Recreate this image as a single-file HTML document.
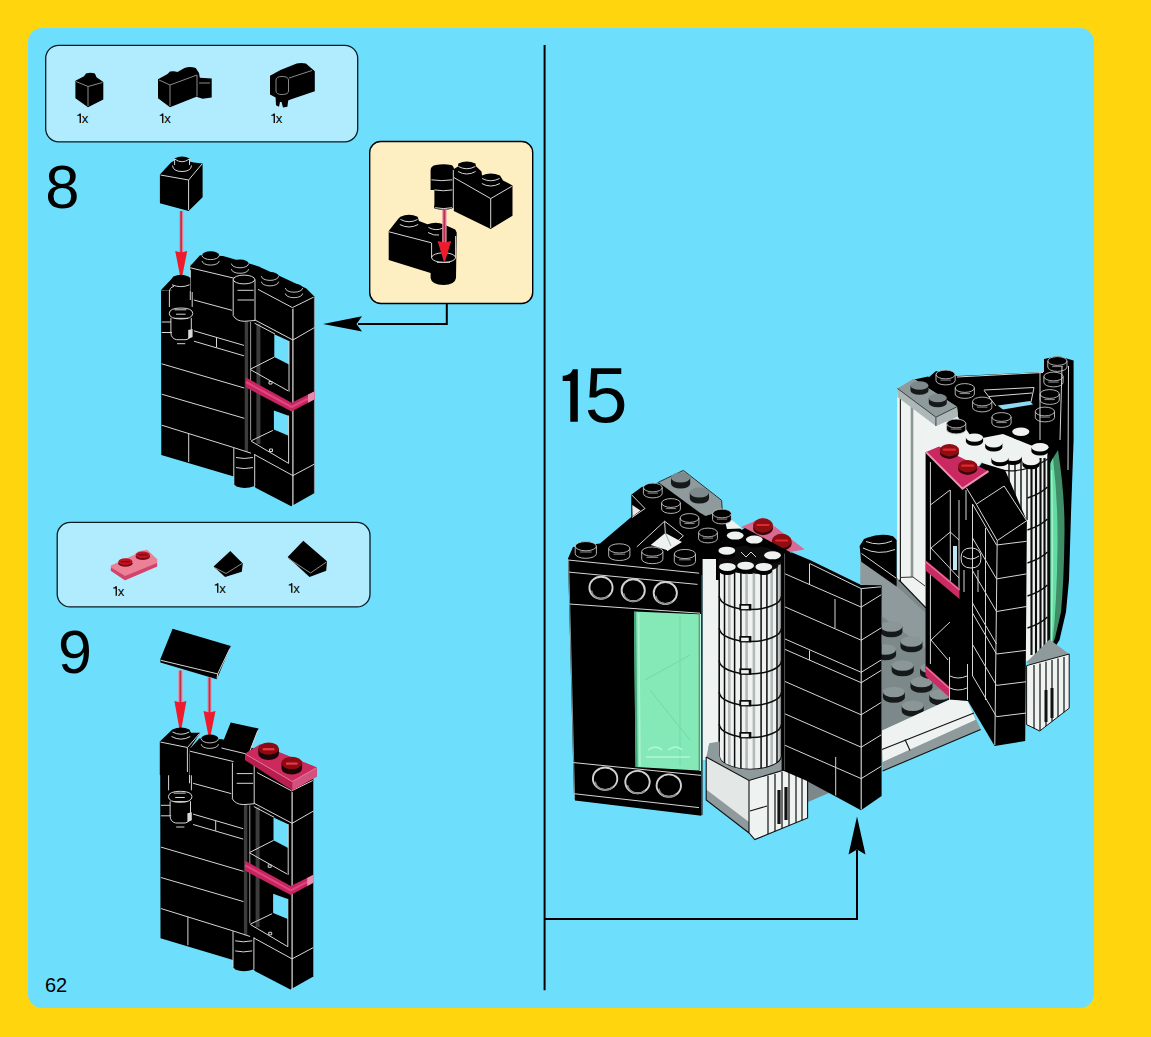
<!DOCTYPE html>
<html><head><meta charset="utf-8">
<style>
html,body{margin:0;padding:0;background:#FFD60E;}
body{width:1151px;height:1037px;overflow:hidden;font-family:"Liberation Sans",sans-serif;}
svg{display:block;position:absolute;left:0;top:0;}
text{font-family:"Liberation Sans",sans-serif;fill:#000;}
.w{stroke:#d6d6d6;stroke-width:1;fill:none;}
.g{stroke:#8a8a8a;stroke-width:1;fill:none;}
.k{fill:#000;}
.kl{stroke:#000;stroke-width:1;fill:none;}
</style></head><body>
<svg width="1151" height="1037" viewBox="0 0 1151 1037">
<rect x="0" y="0" width="1151" height="1037" fill="#FFD60E"/>
<rect x="28" y="28" width="1066" height="980" rx="14" ry="14" fill="#6DDFFC"/>
<!-- parts boxes -->
<rect x="45.7" y="45.3" width="312" height="96.5" rx="13" ry="13" fill="#B1ECFE" stroke="#0a1a22" stroke-width="1.3"/>
<rect x="57.2" y="522.4" width="312.8" height="84.5" rx="13" ry="13" fill="#B1ECFE" stroke="#0a1a22" stroke-width="1.3"/>
<!-- callout -->
<rect x="369.7" y="141.5" width="163" height="162" rx="11" ry="11" fill="#FEEFC2" stroke="#000" stroke-width="1.4"/>
<!-- divider + arrows -->
<path d="M544.6 45V990.3" stroke="#000" stroke-width="2" fill="none"/>
<path d="M544.6 919H857V850" stroke="#000" stroke-width="2" fill="none"/>
<path d="M857 816.5L848.5 854.5L857 849.5L865.5 854.5Z" fill="#000"/>
<path d="M446.8 303.5V323.9H358" stroke="#000" stroke-width="2" fill="none"/>
<path d="M323 323.9L362 316.2L356.5 323.9L362 331.6Z" fill="#000"/>
<!-- text -->
<text x="45" y="991.7" font-size="20">62</text>
<text x="45.3" y="207.8" font-size="61.5">8</text>
<text x="58" y="672.8" font-size="61">9</text>
<path d="M577.8 369.2V421.7H570.3V381H562.7V375.8C567.6 375.6 571.6 373.6 572.7 369.2Z" fill="#000"/>
<text x="584.8" y="422.2" font-size="77">5</text>
<g font-size="13.2">
<path d="M79.6 113.6h1.3v9.4h-1.3v-7.2h-2.4v-0.9q2 -0.1 2.4 -1.3z" fill="#000"/><text x="81.7" y="123">x</text><path d="M162.1 113.6h1.3v9.4h-1.3v-7.2h-2.4v-0.9q2 -0.1 2.4 -1.3z" fill="#000"/><text x="164.2" y="123">x</text><path d="M273.6 113.6h1.3v9.4h-1.3v-7.2h-2.4v-0.9q2 -0.1 2.4 -1.3z" fill="#000"/><text x="275.7" y="123">x</text><path d="M115.6 586.3000000000001h1.3v9.4h-1.3v-7.2h-2.4v-0.9q2 -0.1 2.4 -1.3z" fill="#000"/><text x="117.7" y="595.7">x</text><path d="M217.1 583.3000000000001h1.3v9.4h-1.3v-7.2h-2.4v-0.9q2 -0.1 2.4 -1.3z" fill="#000"/><text x="219.2" y="592.7">x</text><path d="M291.1 583.3000000000001h1.3v9.4h-1.3v-7.2h-2.4v-0.9q2 -0.1 2.4 -1.3z" fill="#000"/><text x="293.2" y="592.7">x</text>
</g>
<!-- parts box 1 -->
<path class="k" d="M75.4 80.7L84 76.3L86 73.6Q90.4 72 94.9 73.6L96.5 77.2L103.3 82V99.5L88 107.2L75.4 98.2Z"/>
<path class="g" d="M76 81.5L88 86.5L102.5 82.5M88 86.5V106"/>
<path class="k" d="M158 79.3L167.5 74L170 71.6Q174 70.6 177.5 72L184.5 68Q190 65.8 195.7 68L199 73L199.8 77.8L211.7 78.6V97.4L202.6 98.8L196.4 96.7L170 107.2L158 98.2Z"/>
<path class="g" d="M159 80L170 85L197 75M170 85V106M197 75V96.5M199 83H210"/>
<path class="k" d="M270 75.8L280.5 70L296.7 63.6Q301 62.4 305.9 63.6L314.8 71.2V91.3L290.5 99.6L288.2 100.5L287.4 106.7L283 107.6L281.5 102H280L279 106.7L276 105.2L275.6 97.4L270 94.4Z"/>
<path class="g" d="M276 80Q276 76.5 282 76.5Q288.5 76.5 288.5 80V91Q288.5 94.5 282 94.5Q276 94.5 276 91ZM289 78L312 70.5"/>

<!-- step 8 --><path class="k" d="M159.9 174.5L171 162.6L174.5 160.5V158.4Q182 154.8 189.6 158.4V161.5L193.8 162.6L202.6 163.4V197.2L188.6 211L159.9 203.2Z"/><path class="w" d="M160.5 175L188.6 180L202 164M188.6 180V210"/><path class="w" d="M174.6 159Q182 164.5 189.5 159M172.5 165.5Q173 171.5 182 171.5Q191 171.5 191.5 165.5M174.6 159V165M189.5 159V165" stroke-width="0.9"/><path d="M181.2 211V253.0" stroke="#EC8FA3" stroke-width="4.4" fill="none"/><path d="M181.2 211V253.0" stroke="#B5304E" stroke-width="1.9" fill="none"/><path d="M175.2 251.0L181.2 252.5L187.2 251.0L181.79999999999998 278.5H180.6Z" fill="#EE1B2C"/><g transform="translate(0 0)"><path class="k" d="M161 290L190.3 290L190.3 264.5L292.5 300L314.6 296.5V493L291.2 506.3L255.5 487.8L254.7 486Q245 489.5 236.5 486.5L233.8 484V476.6L161.3 454.9Z"/><path d="M274.3 334.3L289 341V364.6L274.3 357Z" fill="#6DDFFC"/><path d="M273.9 410.4L288.6 415.8V435.8L273.9 429.6Z" fill="#6DDFFC"/><path d="M246.4 321V452" stroke="#3c3c3c" stroke-width="3.4" fill="none"/><path d="M258.4 324V444" stroke="#3c3c3c" stroke-width="4" fill="none"/><path d="M250.6 322V440" stroke="#9a9a9a" stroke-width="1" fill="none"/><path class="w" d="M193.9 300L232 310.3M193.9 330.8L244 345.4M193.9 341.2L244 355.8M216.5 337.5V347.5M161.7 363.8L244.3 388M161.7 394.2L244.3 418.3M161.7 425.2L233.8 447.6L251 453.2M188.7 433.5V462"/><path class="w" d="M161.7 322H171M161.7 332.5H172"/><path class="w" d="M250.4 369.2L274.4 357M250.4 369.6L288 390.8M289 341V391.6"/><path class="w" d="M251.2 440.8L272.9 430.4M251.2 441.2L288.6 463.4M288.6 415.6V463.4"/><path class="w" d="M269 381.5h3v2.5h-3zM269.5 449h3v2.5h-3z" stroke-width="0.8"/><path class="w" d="M254.6 319.8L292.9 340L314.6 327.5M254.6 323.2L275 334"/><path class="w" d="M254.7 454.7L292.9 475.6L314 464.3"/><path d="M292.9 308V506" stroke="#e2e2e2" stroke-width="1.2" fill="none"/><path d="M314.4 297V493" stroke="#9fb6bd" stroke-width="0.8" fill="none"/><path d="M245.6 377.3L291.6 402.8L314.7 391.3V399.3L291.6 411.6L245.6 387.2Z" fill="#C62560"/><path d="M246 382L291.6 407L314 395.5" stroke="#E0457F" stroke-width="2" fill="none"/><path d="M308 394.6L314.7 391.3V399.3L308 402.8Z" fill="#E58BB0"/><path class="w" d="M233.8 447.8V484M254.7 454V486M236 457.5Q244 459.5 253 457.5M236 467.6Q244 469.6 253 467.6"/><path class="w" d="M161 290.3H172M190.3 264.5V300"/></g><path class="k" d="M160.6 290.4L171 279.4L173.4 276.5Q180.8 273 188.4 276.5L190.4 278V291Z"/><path class="k" d="M190.3 266L200 255.2L223 256L258 266.2L283 277.6L306.4 288.6L314.4 296.6L292.5 309L190.3 270Z"/><path d="M202.0 255.4V260.9A8.6 4.2 0 0 0 219.2 260.9V255.4Z" fill="#000"/><ellipse cx="210.6" cy="255.4" rx="8.6" ry="4.2" fill="#000"/><path d="M202.0 255.4A8.6 4.2 0 0 0 219.2 255.4M202.0 260.9A8.6 4.2 0 0 0 219.2 260.9" fill="none" stroke="#d0d0d0" stroke-width="0.9"/><path d="M231.4 263.6V269.1A8.6 4.2 0 0 0 248.6 269.1V263.6Z" fill="#000"/><ellipse cx="240" cy="263.6" rx="8.6" ry="4.2" fill="#000"/><path d="M231.4 263.6A8.6 4.2 0 0 0 248.6 263.6M231.4 269.1A8.6 4.2 0 0 0 248.6 269.1" fill="none" stroke="#d0d0d0" stroke-width="0.9"/><path d="M261.4 276.2V281.7A8.6 4.2 0 0 0 278.6 281.7V276.2Z" fill="#000"/><ellipse cx="270" cy="276.2" rx="8.6" ry="4.2" fill="#000"/><path d="M261.4 276.2A8.6 4.2 0 0 0 278.6 276.2M261.4 281.7A8.6 4.2 0 0 0 278.6 281.7" fill="none" stroke="#d0d0d0" stroke-width="0.9"/><path d="M285.4 288V293.5A8.6 4.2 0 0 0 302.6 293.5V288Z" fill="#000"/><ellipse cx="294" cy="288" rx="8.6" ry="4.2" fill="#000"/><path d="M285.4 288A8.6 4.2 0 0 0 302.6 288M285.4 293.5A8.6 4.2 0 0 0 302.6 293.5" fill="none" stroke="#d0d0d0" stroke-width="0.9"/><path class="w" d="M190.3 267.8L234.5 278.3M257.9 289.3L292.4 307.6L313.6 297.2"/><path class="k" d="M233.2 279V316Q236 321.5 244 321.5Q252 321.5 255 319V279Q244 272 233.2 279Z"/><ellipse cx="244" cy="279.5" rx="10.8" ry="4.4" class="w" fill="#000"/><path class="w" d="M233.2 279.5V315.5Q236 321 244 321.3L255 320.5M255 279.5V320.5M237.5 290.3H253.5M237.5 300H254"/><path class="w" d="M172 284.8Q180.8 288.5 189.6 284.8M169.4 292Q169.4 287.5 174 286.4M169.4 292V307M192.2 292V307M169.2 313.4Q169.5 308 181 308Q192.5 308 192.8 313.4Q192.5 319 181 319Q169.5 319 169.2 313.4M174.5 309.8H186.4M176 314.2H185.6M174.5 318.3H188M170.9 318V333Q171.2 338.5 176.5 339.7H186Q191 338.5 191.3 333V318M177 343.7H185.2" stroke-width="0.9"/><path d="M188.2 330V339L192.6 337V329Z" fill="#d8d8d8"/>
<!-- callout content --><path class="k" d="M453.8 169L458 166.5L458.3 163.5Q466.8 159.5 475.4 163.5L476 166.3L481.5 171.5L482 175.5Q490.5 171.5 500 175.6L503 180.4L512.5 185.4V215.8L490.7 229L453.8 211Z"/><path class="k" d="M430.6 170Q430.8 165.8 436 165Q443.6 163.6 451 165Q454 165.8 454 170V208H434.4V190H430.6Z"/><path class="k" d="M434.4 205H452.3V208.5Q443.4 211 434.4 208.5Z"/><path class="w" d="M453.8 177.5L490.7 198.6L511.8 186.3M490.7 198.6V228M453.3 170V210"/><path class="w" d="M431.4 179.8Q441.8 181.5 452.3 179.8M434.4 189.9Q443.4 191.6 452.3 189.9M435 207.7Q443.4 209.5 452 207.7" stroke-width="0.9"/><path class="w" d="M458.4 166.5Q466.8 171 475.3 166.5M458 171.5Q466.8 176.5 475.6 171.5M482.2 178.5Q490.5 183 499.6 178.5M481.8 183.5Q490.5 188.5 500 183.5" stroke-width="0.9"/><path class="k" d="M388.7 231L398.5 218.5L400.4 216.8Q409 212.8 417.6 216.8L419 221L427.5 224.3Q436 221 444 224.6L455.2 229.6L456.7 232.5L456 278Q455 284.8 443.6 285Q431.5 284.8 430.6 278V273L388.7 260Z"/><path class="w" d="M389 231.8L431.4 242.8M400.5 219.5Q409 224 417.5 219.5M399.8 224.5Q409 229.5 418.2 224.5M428.5 227.5Q436 231.5 443 228M428 232.5Q434 236 439 235" stroke-width="0.9"/><ellipse cx="443.6" cy="257.6" rx="12" ry="4.8" class="w" stroke-width="0.9"/><path class="w" d="M431.6 243V258M455.6 236V258M437 262.3H450" stroke-width="0.9"/><path d="M444.4 209.5V242.89999999999998" stroke="#EC8FA3" stroke-width="4.4" fill="none"/><path d="M444.4 209.5V242.89999999999998" stroke="#B5304E" stroke-width="1.9" fill="none"/><path d="M437.59999999999997 240.89999999999998L444.4 242.39999999999998L451.2 240.89999999999998L445.0 261.4H443.79999999999995Z" fill="#EE1B2C"/>
<!-- parts box 2 --><path d="M110.8 565.4L134 555L138 551.5L147 549.8L157.3 559.2V566.5L125 580.2L110.8 570.8Z" fill="#EC8097"/><path d="M111 567.5L125 576L157 563V566.5L125 580.2L110.8 570.8Z" fill="#D0446C"/><ellipse cx="125.4" cy="563.2" rx="7.2" ry="3.6" fill="#7A0A12"/><ellipse cx="125.4" cy="561.6" rx="7" ry="3.3" fill="#C01220"/><path d="M121 561.6h9" stroke="#7A0A12" stroke-width="1.2"/><ellipse cx="142.8" cy="556.4" rx="7.2" ry="3.6" fill="#7A0A12"/><ellipse cx="142.8" cy="554.8" rx="7" ry="3.3" fill="#C01220"/><path d="M138.5 554.8h9" stroke="#7A0A12" stroke-width="1.2"/><path class="k" d="M213.6 566.5L230.3 550.9L242.8 563.4L241.8 571.7L225.1 577Z"/><path class="g" d="M214.5 567.5L226 573.5L242 563.5"/><path class="k" d="M287.7 557.1L303.3 540.8L327 561.3L326.2 570.7L309.5 577Z"/><path class="g" d="M288.5 558.5L310.5 573L326.5 562"/>
<!-- step 9 --><path class="k" d="M160.4 659L172.6 628.7L230.8 646L216.8 679.2L160.4 662.6Z"/><path class="w" d="M160.8 660.3L217.7 673.9L229.8 648.6M217.7 673.9L217 678.5"/><path d="M180.4 670.5V703" stroke="#EC8FA3" stroke-width="4.4" fill="none"/><path d="M180.4 670.5V703" stroke="#B5304E" stroke-width="1.9" fill="none"/><path d="M174.4 701L180.4 702.5L186.4 701L181.0 731H179.8Z" fill="#EE1B2C"/><path d="M209.5 677.5V713" stroke="#EC8FA3" stroke-width="4.4" fill="none"/><path d="M209.5 677.5V713" stroke="#B5304E" stroke-width="1.9" fill="none"/><path d="M203.5 711L209.5 712.5L215.5 711L210.1 738H208.9Z" fill="#EE1B2C"/><g transform="translate(-0.8 483.3)"><path class="k" d="M161 290L190.3 290L190.3 264.5L292.5 300L314.6 296.5V493L291.2 506.3L255.5 487.8L254.7 486Q245 489.5 236.5 486.5L233.8 484V476.6L161.3 454.9Z"/><path d="M274.3 334.3L289 341V364.6L274.3 357Z" fill="#6DDFFC"/><path d="M273.9 410.4L288.6 415.8V435.8L273.9 429.6Z" fill="#6DDFFC"/><path d="M246.4 321V452" stroke="#3c3c3c" stroke-width="3.4" fill="none"/><path d="M258.4 324V444" stroke="#3c3c3c" stroke-width="4" fill="none"/><path d="M250.6 322V440" stroke="#9a9a9a" stroke-width="1" fill="none"/><path class="w" d="M193.9 300L232 310.3M193.9 330.8L244 345.4M193.9 341.2L244 355.8M216.5 337.5V347.5M161.7 363.8L244.3 388M161.7 394.2L244.3 418.3M161.7 425.2L233.8 447.6L251 453.2M188.7 433.5V462"/><path class="w" d="M161.7 322H171M161.7 332.5H172"/><path class="w" d="M250.4 369.2L274.4 357M250.4 369.6L288 390.8M289 341V391.6"/><path class="w" d="M251.2 440.8L272.9 430.4M251.2 441.2L288.6 463.4M288.6 415.6V463.4"/><path class="w" d="M269 381.5h3v2.5h-3zM269.5 449h3v2.5h-3z" stroke-width="0.8"/><path class="w" d="M254.6 319.8L292.9 340L314.6 327.5M254.6 323.2L275 334"/><path class="w" d="M254.7 454.7L292.9 475.6L314 464.3"/><path d="M292.9 308V506" stroke="#e2e2e2" stroke-width="1.2" fill="none"/><path d="M314.4 297V493" stroke="#9fb6bd" stroke-width="0.8" fill="none"/><path d="M245.6 377.3L291.6 402.8L314.7 391.3V399.3L291.6 411.6L245.6 387.2Z" fill="#C62560"/><path d="M246 382L291.6 407L314 395.5" stroke="#E0457F" stroke-width="2" fill="none"/><path d="M308 394.6L314.7 391.3V399.3L308 402.8Z" fill="#E58BB0"/><path class="w" d="M233.8 447.8V484M254.7 454V486M236 457.5Q244 459.5 253 457.5M236 467.6Q244 469.6 253 467.6"/><path class="w" d="M161 290.3H172M190.3 264.5V300"/></g><g transform="translate(-0.8 483.3)"><path class="k" d="M190.3 266L200 255.2L223 256L258 266.2L283 277.6L306.4 288.6L314.4 296.6L292.5 309L190.3 270Z"/><path d="M202.0 255.4V260.9A8.6 4.2 0 0 0 219.2 260.9V255.4Z" fill="#000"/><ellipse cx="210.6" cy="255.4" rx="8.6" ry="4.2" fill="#000"/><path d="M202.0 255.4A8.6 4.2 0 0 0 219.2 255.4M202.0 260.9A8.6 4.2 0 0 0 219.2 260.9" fill="none" stroke="#d0d0d0" stroke-width="0.9"/><path class="w" d="M190.3 267.8L234.5 278.3M257.9 289.3L292.4 307.6L313.6 297.2"/><path class="k" d="M233.2 279V316Q236 321.5 244 321.5Q252 321.5 255 319V279Q244 272 233.2 279Z"/><path class="w" d="M233.2 279.5V315.5Q236 321 244 321.3L255 320.5M255 279.5V320.5M237.5 290.3H253.5M237.5 300H254"/></g><path class="k" d="M159.8 741.5L170 731.8L172.4 729.6Q180.9 725.4 189.4 729.6L191 732.8H200.3L189.6 749V775H159.8Z"/><path class="w" d="M160.3 742L187.5 747.5L199.5 733.5M187.4 748V772" stroke-width="0.9"/><path class="w" d="M172.5 732Q180.9 736.5 189.3 732M171.5 736.5Q180.9 741.8 190.3 736.5" stroke-width="0.9"/><path class="k" d="M221 746.7L230.7 722.4L258.6 728.5L249 752V762L221 754Z"/><path class="w" d="M221.5 748L248.6 754.5L257.8 730.5" stroke-width="0.9"/><path d="M245 753.7L260 744.5L316.8 767.5V776.4L292.3 790.6L245 760.2Z" fill="#B81E4E"/><path d="M245 753.7L260 744.5L316.8 767.5L292.3 781.5Z" fill="#CB2A5C"/><path d="M292.3 781.5L316.8 767.5V776.4L292.3 790.6Z" fill="#D4507F"/><path d="M245.3 754L292.3 781.5L316.5 767.8" stroke="#E67AA2" stroke-width="1" fill="none"/><path d="M258.3 748.6V754.0A10.3 6 0 0 0 278.90000000000003 754.0V748.6Z" fill="#1c0406"/><ellipse cx="268.6" cy="748.6" rx="10.3" ry="6.2" fill="#8E0A12"/><path d="M262.8 749.2h11.6" stroke="#E8384A" stroke-width="2.2"/><path d="M281.5 763V768.4A10.3 6 0 0 0 302.1 768.4V763Z" fill="#1c0406"/><ellipse cx="291.8" cy="763" rx="10.3" ry="6.2" fill="#8E0A12"/><path d="M286.0 763.6h11.6" stroke="#E8384A" stroke-width="2.2"/><g transform="translate(-0.8 483.3)"><path class="w" d="M169.4 292V307M192.2 292V307M169.2 313.4Q169.5 308 181 308Q192.5 308 192.8 313.4Q192.5 319 181 319Q169.5 319 169.2 313.4M174.5 309.8H186.4M176 314.2H185.6M174.5 318.3H188M170.9 318V333Q171.2 338.5 176.5 339.7H186Q191 338.5 191.3 333V318M177 343.7H185.2" stroke-width="0.9"/><path d="M188.2 330V339L192.6 337V329Z" fill="#d8d8d8"/></g>
<!-- step 15 --><path d="M861 548L926 600V668L951 694V706L882 735V600Z" fill="#7C8889"/><path d="M860.3 555L896 585.5L925.3 612.8V648L881.5 616V592L860.3 584Z" fill="#8E9A9B"/><path d="M880.4 626.5V632.0A11 5.2 0 0 0 902.4 632.0V626.5Z" fill="#15191a"/><ellipse cx="891.4" cy="626.5" rx="11" ry="5.2" fill="#8A9697"/><path d="M900.5 641.5V647.0A11 5.2 0 0 0 922.5 647.0V641.5Z" fill="#15191a"/><ellipse cx="911.5" cy="641.5" rx="11" ry="5.2" fill="#8A9697"/><path d="M874.1 649.5V655.0A11 5.2 0 0 0 896.1 655.0V649.5Z" fill="#15191a"/><ellipse cx="885.1" cy="649.5" rx="11" ry="5.2" fill="#8A9697"/><path d="M891.7 665.5V671.0A11 5.2 0 0 0 913.7 671.0V665.5Z" fill="#15191a"/><ellipse cx="902.7" cy="665.5" rx="11" ry="5.2" fill="#8A9697"/><path d="M910.5 682V687.5A11 5.2 0 0 0 932.5 687.5V682Z" fill="#15191a"/><ellipse cx="921.5" cy="682" rx="11" ry="5.2" fill="#8A9697"/><path d="M882.9 692V697.5A11 5.2 0 0 0 904.9 697.5V692Z" fill="#15191a"/><ellipse cx="893.9" cy="692" rx="11" ry="5.2" fill="#8A9697"/><path d="M929.3 694.5V700.0A11 5.2 0 0 0 951.3 700.0V694.5Z" fill="#15191a"/><ellipse cx="940.3" cy="694.5" rx="11" ry="5.2" fill="#8A9697"/><path d="M901.7 705.8V711.3A11 5.2 0 0 0 923.7 711.3V705.8Z" fill="#15191a"/><ellipse cx="912.7" cy="705.8" rx="11" ry="5.2" fill="#8A9697"/><path d="M920 668V673.5A11 5.2 0 0 0 942 673.5V668Z" fill="#15191a"/><ellipse cx="931" cy="668" rx="11" ry="5.2" fill="#8A9697"/><path class="k" d="M859.6 546L864 539L868 537.5Q880 533 893 536.2L896.6 540V586.5L861.3 561.8Z"/><path class="w" d="M866 541.5Q879 546.5 892 541M863 548Q878 556 895 549.5M861.5 553.5L896 578" stroke-width="0.9"/><path d="M881.4 730.7L950.3 699.3L967.5 700.8L980.7 729.5L882.6 771Z" fill="#8E9A9B"/><path d="M881.4 730.7L950.3 699.3L967.5 700.8L975.7 719.7L882.6 762Z" fill="#EEF2F0"/><path d="M882 749.5L974 713M905 739.5L910 750.5" stroke="#111" stroke-width="1.1" fill="none"/><path d="M882.6 771L980.7 729.5" stroke="#111" stroke-width="1.1" fill="none"/><path d="M897.4 392L936 426L958 416L990 450L962 489L926 455V608L897.4 578Z" fill="#EEF2F0"/><path d="M897.4 392L926 414V608L897.4 578Z" fill="#EEF2F0"/><path d="M900.4 398V582" stroke="#222" stroke-width="1.2" fill="none"/><path d="M912 406V577" stroke="#8d9696" stroke-width="2.6" fill="none"/><path d="M900 577.5L913 577L925 586" stroke="#333" stroke-width="1" fill="none"/><path d="M899 580L926 608" stroke="#111" stroke-width="1.1" fill="none"/><path class="k" d="M928 378L936 371L957 376L1044 372V359L1058 356L1073.6 360.5L1073.6 440L1071 514L1069 580L1066 612L1059.5 640L1050 655V455H985L972 438L958 417L957 407Z"/><path class="k" d="M912 380L928 376.5L962 398L958 409Z"/><path d="M997.6 405.5L1030 401L1033 404.5L1003 409.5Z" fill="#8FD9F2"/><path class="w" d="M984 390L1034 387.5L1031 402M984 390.5L996 406M989 396.5L1032 393" stroke-width="0.9"/><path d="M1049 466L1053 458L1058 450Q1065 495 1064.5 534Q1064 580 1061 612L1055 638L1050 650Z" fill="#3F8E68"/><path d="M1049 466L1053 458Q1058 500 1057.5 546Q1057 600 1052.5 644L1050 650Z" fill="#62DEA2"/><path d="M1051.5 470Q1053.5 550 1051 644" stroke="#A6EFCF" stroke-width="1.5" fill="none"/><path d="M972 440L1003 434L1047.5 452V652L1020 664V520L1000 472L985 468Z" fill="#EEF2F0"/><path d="M1048.8 455V654" stroke="#0c0c0c" stroke-width="3" fill="none"/><path d="M1009 458V520" stroke="#0c0c0c" stroke-width="1.4" fill="none"/><path d="M1015 458V520" stroke="#0c0c0c" stroke-width="1.4" fill="none"/><path d="M1021 458V520" stroke="#0c0c0c" stroke-width="1.4" fill="none"/><path d="M1027 458V520" stroke="#0c0c0c" stroke-width="1.4" fill="none"/><path d="M1031.5 458V655" stroke="#0c0c0c" stroke-width="2.1" fill="none"/><path d="M1036 458V655" stroke="#0c0c0c" stroke-width="2.1" fill="none"/><path d="M1040.5 458V655" stroke="#0c0c0c" stroke-width="2.1" fill="none"/><path d="M1044.5 458V655" stroke="#0c0c0c" stroke-width="2.1" fill="none"/><path d="M1027.5 498Q1040 494 1047.5 487" stroke="#0c0c0c" stroke-width="1.5" fill="none"/><path d="M1027.5 530Q1040 526 1047.5 519" stroke="#0c0c0c" stroke-width="1.5" fill="none"/><path d="M1027.5 563Q1040 559 1047.5 552" stroke="#0c0c0c" stroke-width="1.5" fill="none"/><path d="M1027.5 596Q1040 592 1047.5 585" stroke="#0c0c0c" stroke-width="1.5" fill="none"/><path d="M1027.5 628Q1040 624 1047.5 617" stroke="#0c0c0c" stroke-width="1.5" fill="none"/><path d="M1000 470Q1025 474 1049.5 458" stroke="#111" stroke-width="1.2" fill="none"/><path d="M965.9 437.6V441.6A8.6 4.2 0 0 0 983.1 441.6V437.6Z" fill="#000"/><ellipse cx="974.5" cy="437.6" rx="8.6" ry="4.2" fill="#EEF2F0"/><path d="M985.1999999999999 443.3V447.3A8.6 4.2 0 0 0 1002.4 447.3V443.3Z" fill="#000"/><ellipse cx="993.8" cy="443.3" rx="8.6" ry="4.2" fill="#EEF2F0"/><path d="M1012.1999999999999 431.8V435.8A8.6 4.2 0 0 0 1029.3999999999999 435.8V431.8Z" fill="#000"/><ellipse cx="1020.8" cy="431.8" rx="8.6" ry="4.2" fill="#EEF2F0"/><path d="M1031.4 447.2V451.2A8.6 4.2 0 0 0 1048.6 451.2V447.2Z" fill="#000"/><ellipse cx="1040" cy="447.2" rx="8.6" ry="4.2" fill="#EEF2F0"/><path d="M1004.4 456.8V460.8A8.6 4.2 0 0 0 1021.6 460.8V456.8Z" fill="#000"/><ellipse cx="1013" cy="456.8" rx="8.6" ry="4.2" fill="#EEF2F0"/><path d="M991.4 458V462A8.6 4.2 0 0 0 1008.6 462V458Z" fill="#000"/><ellipse cx="1000" cy="458" rx="8.6" ry="4.2" fill="#EEF2F0"/><path d="M1022.4 461V465A8.6 4.2 0 0 0 1039.6 465V461Z" fill="#000"/><ellipse cx="1031" cy="461" rx="8.6" ry="4.2" fill="#EEF2F0"/><path d="M936.0 374.5V380.5A9.6 4.4 0 0 0 955.2 380.5V374.5Z" fill="#000"/><ellipse cx="945.6" cy="374.5" rx="9.6" ry="4.4" fill="#000"/><ellipse cx="945.6" cy="374.5" rx="9.6" ry="4.4" fill="none" stroke="#c4c4c4" stroke-width="0.9"/><path d="M936.0 380.5A9.6 4.4 0 0 0 955.2 380.5M936.0 374.5v6M955.2 374.5v6" fill="none" stroke="#c4c4c4" stroke-width="0.9"/><path d="M940.32 380.09999999999997h10.56" stroke="#9a9a9a" stroke-width="0.9"/><path d="M955.1999999999999 388V394A9.6 4.4 0 0 0 974.4 394V388Z" fill="#000"/><ellipse cx="964.8" cy="388" rx="9.6" ry="4.4" fill="#000"/><ellipse cx="964.8" cy="388" rx="9.6" ry="4.4" fill="none" stroke="#c4c4c4" stroke-width="0.9"/><path d="M955.1999999999999 394A9.6 4.4 0 0 0 974.4 394M955.1999999999999 388v6M974.4 388v6" fill="none" stroke="#c4c4c4" stroke-width="0.9"/><path d="M959.52 393.59999999999997h10.56" stroke="#9a9a9a" stroke-width="0.9"/><path d="M972.6 401.5V407.5A9.6 4.4 0 0 0 991.8000000000001 407.5V401.5Z" fill="#000"/><ellipse cx="982.2" cy="401.5" rx="9.6" ry="4.4" fill="#000"/><ellipse cx="982.2" cy="401.5" rx="9.6" ry="4.4" fill="none" stroke="#c4c4c4" stroke-width="0.9"/><path d="M972.6 407.5A9.6 4.4 0 0 0 991.8000000000001 407.5M972.6 401.5v6M991.8000000000001 401.5v6" fill="none" stroke="#c4c4c4" stroke-width="0.9"/><path d="M976.9200000000001 407.09999999999997h10.56" stroke="#9a9a9a" stroke-width="0.9"/><path d="M991.9 417V423A9.6 4.4 0 0 0 1011.1 423V417Z" fill="#000"/><ellipse cx="1001.5" cy="417" rx="9.6" ry="4.4" fill="#000"/><ellipse cx="1001.5" cy="417" rx="9.6" ry="4.4" fill="none" stroke="#c4c4c4" stroke-width="0.9"/><path d="M991.9 423A9.6 4.4 0 0 0 1011.1 423M991.9 417v6M1011.1 417v6" fill="none" stroke="#c4c4c4" stroke-width="0.9"/><path d="M996.22 422.59999999999997h10.56" stroke="#9a9a9a" stroke-width="0.9"/><path d="M946.6 423.5V429.5A9.6 4.4 0 0 0 965.8000000000001 429.5V423.5Z" fill="#000"/><ellipse cx="956.2" cy="423.5" rx="9.6" ry="4.4" fill="#000"/><ellipse cx="956.2" cy="423.5" rx="9.6" ry="4.4" fill="none" stroke="#c4c4c4" stroke-width="0.9"/><path d="M946.6 429.5A9.6 4.4 0 0 0 965.8000000000001 429.5M946.6 423.5v6M965.8000000000001 423.5v6" fill="none" stroke="#c4c4c4" stroke-width="0.9"/><path d="M950.9200000000001 429.09999999999997h10.56" stroke="#9a9a9a" stroke-width="0.9"/><path d="M1047.8000000000002 361V367A9.6 4.4 0 0 0 1067.0 367V361Z" fill="#000"/><ellipse cx="1057.4" cy="361" rx="9.6" ry="4.4" fill="#000"/><ellipse cx="1057.4" cy="361" rx="9.6" ry="4.4" fill="none" stroke="#c4c4c4" stroke-width="0.9"/><path d="M1047.8000000000002 367A9.6 4.4 0 0 0 1067.0 367M1047.8000000000002 361v6M1067.0 361v6" fill="none" stroke="#c4c4c4" stroke-width="0.9"/><path d="M1052.1200000000001 366.59999999999997h10.56" stroke="#9a9a9a" stroke-width="0.9"/><path d="M1043.9 376.5V382.5A9.6 4.4 0 0 0 1063.1 382.5V376.5Z" fill="#000"/><ellipse cx="1053.5" cy="376.5" rx="9.6" ry="4.4" fill="#000"/><ellipse cx="1053.5" cy="376.5" rx="9.6" ry="4.4" fill="none" stroke="#c4c4c4" stroke-width="0.9"/><path d="M1043.9 382.5A9.6 4.4 0 0 0 1063.1 382.5M1043.9 376.5v6M1063.1 376.5v6" fill="none" stroke="#c4c4c4" stroke-width="0.9"/><path d="M1048.22 382.09999999999997h10.56" stroke="#9a9a9a" stroke-width="0.9"/><path d="M1040.1000000000001 394V400A9.6 4.4 0 0 0 1059.3 400V394Z" fill="#000"/><ellipse cx="1049.7" cy="394" rx="9.6" ry="4.4" fill="#000"/><ellipse cx="1049.7" cy="394" rx="9.6" ry="4.4" fill="none" stroke="#c4c4c4" stroke-width="0.9"/><path d="M1040.1000000000001 400A9.6 4.4 0 0 0 1059.3 400M1040.1000000000001 394v6M1059.3 394v6" fill="none" stroke="#c4c4c4" stroke-width="0.9"/><path d="M1044.42 399.59999999999997h10.56" stroke="#9a9a9a" stroke-width="0.9"/><path d="M1035.3000000000002 411.5V417.5A9.6 4.4 0 0 0 1054.5 417.5V411.5Z" fill="#000"/><ellipse cx="1044.9" cy="411.5" rx="9.6" ry="4.4" fill="#000"/><ellipse cx="1044.9" cy="411.5" rx="9.6" ry="4.4" fill="none" stroke="#c4c4c4" stroke-width="0.9"/><path d="M1035.3000000000002 417.5A9.6 4.4 0 0 0 1054.5 417.5M1035.3000000000002 411.5v6M1054.5 411.5v6" fill="none" stroke="#c4c4c4" stroke-width="0.9"/><path d="M1039.6200000000001 417.09999999999997h10.56" stroke="#9a9a9a" stroke-width="0.9"/><path class="w" d="M957 377L1043 372.5M1040 372V440M1062 366L1060 440M1068.5 366L1068 470" stroke-width="0.9"/><path d="M897.4 388.4L913.7 378.7L957.1 406.7L958.1 416.3L935.9 426L897.4 397Z" fill="#AEB7B8"/><path d="M897.4 388.4L913.7 378.7L957.1 406.7L935.9 417.2Z" fill="#8E9A9B"/><path d="M897.4 388.4L935.9 417.2L957.1 406.7M935.9 417.2V426" stroke="#3a4445" stroke-width="1" fill="none"/><path d="M910.5 385.5V390.5A9 4.3 0 0 0 928.5 390.5V385.5Z" fill="#15191a"/><ellipse cx="919.5" cy="385.5" rx="9" ry="4.3" fill="#7d898a"/><path d="M928.8 398V403A9 4.3 0 0 0 946.8 403V398Z" fill="#15191a"/><ellipse cx="937.8" cy="398" rx="9" ry="4.3" fill="#7d898a"/><path class="k" d="M962.5 488.6L982 463L1005 470L1026.9 520.7L1025.2 741L994.6 746L968 701L949.5 699.5L947.7 690L925.6 670V452Z"/><path d="M926 452.1L939 446.5L988.5 471.2L962.5 488.6Z" fill="#C92860"/><path d="M926 452.1L962.5 488.6L988.5 471.2" stroke="#EE8FB5" stroke-width="2" fill="none"/><ellipse cx="949.4" cy="452.7" rx="9.6" ry="6.2" fill="#3a0508"/><ellipse cx="949.4" cy="450.2" rx="9.6" ry="6.2" fill="#8E0E14"/><path d="M943.9 449.7h11" stroke="#E32630" stroke-width="2.2" stroke-linecap="round"/><ellipse cx="967.7" cy="468.7" rx="9.6" ry="6.2" fill="#3a0508"/><ellipse cx="967.7" cy="466.2" rx="9.6" ry="6.2" fill="#8E0E14"/><path d="M962.2 465.7h11" stroke="#E32630" stroke-width="2.2" stroke-linecap="round"/><path class="w" d="M976.3 504.2L1004.1 486L1026.7 520.7L997.2 540.6ZM997.2 540.6L994.8 745M966.5 488L976.3 504.2"/><path class="w" d="M996.5 545L1026.5 541.3"/><path class="w" d="M996.5 578.9L1026.5 573.9"/><path class="w" d="M996.5 611.5L1026.5 606.5"/><path class="w" d="M996.5 654L1026.5 650.3"/><path class="w" d="M996.5 685.4L1026.5 681.7"/><path class="w" d="M996.5 716.7L1026.5 713"/><path class="w" d="M996.5 545L972.5 504" stroke-width="0.9"/><path class="w" d="M996.5 578.9L972.5 537.9" stroke-width="0.9"/><path class="w" d="M996.5 611.5L972.5 570.5" stroke-width="0.9"/><path class="w" d="M996.5 644L972.5 603" stroke-width="0.9"/><path class="w" d="M996.5 654L972.5 613" stroke-width="0.9"/><path class="w" d="M996.5 685.4L972.5 644.4" stroke-width="0.9"/><path class="w" d="M996.5 716.7L972.5 675.7" stroke-width="0.9"/><path class="w" d="M972.5 504V676M966 490V520M985.5 528V700" stroke-width="0.9"/><path class="w" d="M930.4 462V560M930.4 572V664M950.3 490V585M959 500V590M930.4 505L950 490M931 548L950.3 532L959 540M931 548L959 578M931 640L950 622M931 640L948 660" stroke-width="0.9"/><path d="M926 560.5L959.5 588.5V599L926 571Z" fill="#C92B62"/><path d="M925.6 665.6L949 686.5V697L925.6 676Z" fill="#C92B62"/><path d="M926 562L959.5 590M925.6 667L949 688" stroke="#E4709C" stroke-width="1.6" fill="none"/><path d="M953 546h4v24h-4z" fill="#BFE6F5"/><path class="w" d="M949.5 657V700M967.5 664V700M950 676Q958 680 967 676M950 688Q958 692 967 688M961 558Q961 548 971 548Q981 548 981 558Q981 568 971 568Q961 568 961 558M964 570V592M978 570V592M963 556Q971 562 979 556" stroke-width="0.9"/><path d="M1026.6 662.3L1049.5 639.5L1069.2 654L1039.5 669Z" fill="#8E9A9B"/><path d="M1026.6 665.6L1069.2 654V708.2L1039.7 731L1026.6 724.6Z" fill="#EEF2F0"/><path d="M1034 665.0V728.3" stroke="#111" stroke-width="1.2" fill="none"/><path d="M1040 663.4V730.8" stroke="#111" stroke-width="1.2" fill="none"/><path d="M1046 661.8V726.1" stroke="#111" stroke-width="1.2" fill="none"/><path d="M1052 660.1V721.5" stroke="#111" stroke-width="1.2" fill="none"/><path d="M1058 658.5V716.9" stroke="#111" stroke-width="1.2" fill="none"/><path d="M1064 656.9V712.3" stroke="#111" stroke-width="1.2" fill="none"/><path d="M1026.6 665.6L1069.2 654V708.2L1039.7 731L1026.6 724.6Z" stroke="#111" stroke-width="1" fill="none"/><path d="M1046 690V722M1052 688V718" stroke="#111" stroke-width="3" fill="none"/><path class="k" d="M568 558.5L573 547L600 543.4L631.3 517V494.7L641.7 487.1L660 482L700 512L722.3 511.4L745 533V575H701.6L701.4 815.8L575 800.6L573.9 793.7Z"/><path d="M658.4 482.2L683.4 470.4L721.6 500.3L722.3 510.7L705.6 516L700 512.8Z" fill="#8E9A9B"/><path d="M658.4 482.2L683.4 470.4L721.6 500.3L722.3 510.7" stroke="#2b3435" stroke-width="1" fill="none"/><path d="M671.0 477.6V483.6A9.6 5 0 0 0 690.2 483.6V477.6Z" fill="#15191a"/><ellipse cx="680.6" cy="477.6" rx="9.6" ry="5" fill="#7d898a"/><path d="M689.8 492.6V498.6A9.6 5 0 0 0 709.0 498.6V492.6Z" fill="#15191a"/><ellipse cx="699.4" cy="492.6" rx="9.6" ry="5" fill="#7d898a"/><path d="M722.5 512L742 528.5L727 529Z" fill="#EEF2F0"/><path d="M643.4 487.5V493.5A9.4 4.4 0 0 0 662.1999999999999 493.5V487.5Z" fill="#000"/><ellipse cx="652.8" cy="487.5" rx="9.4" ry="4.4" fill="#000"/><ellipse cx="652.8" cy="487.5" rx="9.4" ry="4.4" fill="none" stroke="#c4c4c4" stroke-width="0.9"/><path d="M643.4 493.5A9.4 4.4 0 0 0 662.1999999999999 493.5M643.4 487.5v6M662.1999999999999 487.5v6" fill="none" stroke="#c4c4c4" stroke-width="0.9"/><path d="M647.63 493.09999999999997h10.340000000000002" stroke="#9a9a9a" stroke-width="0.9"/><path d="M661.6 503V509A9.4 4.4 0 0 0 680.4 509V503Z" fill="#000"/><ellipse cx="671" cy="503" rx="9.4" ry="4.4" fill="#000"/><ellipse cx="671" cy="503" rx="9.4" ry="4.4" fill="none" stroke="#c4c4c4" stroke-width="0.9"/><path d="M661.6 509A9.4 4.4 0 0 0 680.4 509M661.6 503v6M680.4 503v6" fill="none" stroke="#c4c4c4" stroke-width="0.9"/><path d="M665.83 508.59999999999997h10.340000000000002" stroke="#9a9a9a" stroke-width="0.9"/><path d="M680.1 518V524A9.4 4.4 0 0 0 698.9 524V518Z" fill="#000"/><ellipse cx="689.5" cy="518" rx="9.4" ry="4.4" fill="#000"/><ellipse cx="689.5" cy="518" rx="9.4" ry="4.4" fill="none" stroke="#c4c4c4" stroke-width="0.9"/><path d="M680.1 524A9.4 4.4 0 0 0 698.9 524M680.1 518v6M698.9 518v6" fill="none" stroke="#c4c4c4" stroke-width="0.9"/><path d="M684.33 523.6h10.340000000000002" stroke="#9a9a9a" stroke-width="0.9"/><path d="M698.6 532.5V538.5A9.4 4.4 0 0 0 717.4 538.5V532.5Z" fill="#000"/><ellipse cx="708" cy="532.5" rx="9.4" ry="4.4" fill="#000"/><ellipse cx="708" cy="532.5" rx="9.4" ry="4.4" fill="none" stroke="#c4c4c4" stroke-width="0.9"/><path d="M698.6 538.5A9.4 4.4 0 0 0 717.4 538.5M698.6 532.5v6M717.4 532.5v6" fill="none" stroke="#c4c4c4" stroke-width="0.9"/><path d="M702.83 538.1h10.340000000000002" stroke="#9a9a9a" stroke-width="0.9"/><path d="M712.6 513.5V519.5A9.4 4.4 0 0 0 731.4 519.5V513.5Z" fill="#000"/><ellipse cx="722" cy="513.5" rx="9.4" ry="4.4" fill="#000"/><ellipse cx="722" cy="513.5" rx="9.4" ry="4.4" fill="none" stroke="#c4c4c4" stroke-width="0.9"/><path d="M712.6 519.5A9.4 4.4 0 0 0 731.4 519.5M712.6 513.5v6M731.4 513.5v6" fill="none" stroke="#c4c4c4" stroke-width="0.9"/><path d="M716.83 519.1h10.340000000000002" stroke="#9a9a9a" stroke-width="0.9"/><path d="M632.3 505L640.5 510.5L632.5 516.5Z" fill="#e8e8e8"/><path class="w" d="M631.8 495L645 508.5L632 517.5" stroke-width="0.9"/><path class="w" d="M636.8 546.9L664.6 521.2L683.4 535.8L667 551" stroke-width="1"/><path d="M665.3 533L682 542L668.1 550.6L650.7 545Z" fill="#EEF2F0"/><path d="M665.3 533L671 546" stroke="#9aa" stroke-width="1"/><path class="w" d="M664.6 521.2L665.3 533" stroke-width="0.9"/><path d="M575.1999999999999 546.2V553.7A10.6 4.6 0 0 0 596.4 553.7V546.2Z" fill="#000"/><ellipse cx="585.8" cy="546.2" rx="10.6" ry="4.6" fill="#000"/><ellipse cx="585.8" cy="546.2" rx="10.6" ry="4.6" fill="none" stroke="#c4c4c4" stroke-width="0.9"/><path d="M575.1999999999999 553.7A10.6 4.6 0 0 0 596.4 553.7M575.1999999999999 546.2v7.5M596.4 546.2v7.5" fill="none" stroke="#c4c4c4" stroke-width="0.9"/><path d="M579.9699999999999 552.0000000000001h11.66" stroke="#9a9a9a" stroke-width="0.9"/><path d="M608.6999999999999 548.4V555.9A10.6 4.6 0 0 0 629.9 555.9V548.4Z" fill="#000"/><ellipse cx="619.3" cy="548.4" rx="10.6" ry="4.6" fill="#000"/><ellipse cx="619.3" cy="548.4" rx="10.6" ry="4.6" fill="none" stroke="#c4c4c4" stroke-width="0.9"/><path d="M608.6999999999999 555.9A10.6 4.6 0 0 0 629.9 555.9M608.6999999999999 548.4v7.5M629.9 548.4v7.5" fill="none" stroke="#c4c4c4" stroke-width="0.9"/><path d="M613.4699999999999 554.2h11.66" stroke="#9a9a9a" stroke-width="0.9"/><path d="M641.6999999999999 551.6V559.1A10.6 4.6 0 0 0 662.9 559.1V551.6Z" fill="#000"/><ellipse cx="652.3" cy="551.6" rx="10.6" ry="4.6" fill="#000"/><ellipse cx="652.3" cy="551.6" rx="10.6" ry="4.6" fill="none" stroke="#c4c4c4" stroke-width="0.9"/><path d="M641.6999999999999 559.1A10.6 4.6 0 0 0 662.9 559.1M641.6999999999999 551.6v7.5M662.9 551.6v7.5" fill="none" stroke="#c4c4c4" stroke-width="0.9"/><path d="M646.4699999999999 557.4000000000001h11.66" stroke="#9a9a9a" stroke-width="0.9"/><path d="M674.3 554V561.5A10.6 4.6 0 0 0 695.5 561.5V554Z" fill="#000"/><ellipse cx="684.9" cy="554" rx="10.6" ry="4.6" fill="#000"/><ellipse cx="684.9" cy="554" rx="10.6" ry="4.6" fill="none" stroke="#c4c4c4" stroke-width="0.9"/><path d="M674.3 561.5A10.6 4.6 0 0 0 695.5 561.5M674.3 554v7.5M695.5 554v7.5" fill="none" stroke="#c4c4c4" stroke-width="0.9"/><path d="M679.0699999999999 559.8000000000001h11.66" stroke="#9a9a9a" stroke-width="0.9"/><path class="w" d="M568 560L699.2 573.2M568.9 572.1L697.5 584.4M569.3 604L700 613.2M572.7 762.5L701.2 775.4M573.9 793.7L699 807.6"/><ellipse cx="601" cy="587.7" rx="11.6" ry="11" fill="none" stroke="#d2d2d2" stroke-width="1.9"/><path d="M591.5 590.7A10 9.5 0 0 0 608 596.2" stroke="#8b8b8b" stroke-width="1.6" fill="none"/><ellipse cx="633.2" cy="590.3" rx="11.6" ry="11" fill="none" stroke="#d2d2d2" stroke-width="1.9"/><path d="M623.7 593.3A10 9.5 0 0 0 640.2 598.8" stroke="#8b8b8b" stroke-width="1.6" fill="none"/><ellipse cx="665.3" cy="593" rx="11.6" ry="11" fill="none" stroke="#d2d2d2" stroke-width="1.9"/><path d="M655.8 596A10 9.5 0 0 0 672.3 601.5" stroke="#8b8b8b" stroke-width="1.6" fill="none"/><ellipse cx="605.1" cy="778.7" rx="12.2" ry="11.2" fill="none" stroke="#d2d2d2" stroke-width="1.9"/><path d="M595.1 781.7A10.5 10 0 0 0 612.6 787.2" stroke="#8b8b8b" stroke-width="1.6" fill="none"/><ellipse cx="637.5" cy="782.1" rx="12.2" ry="11.2" fill="none" stroke="#d2d2d2" stroke-width="1.9"/><path d="M627.5 785.1A10.5 10 0 0 0 645.0 790.6" stroke="#8b8b8b" stroke-width="1.6" fill="none"/><ellipse cx="668.8" cy="785.6" rx="12.2" ry="11.2" fill="none" stroke="#d2d2d2" stroke-width="1.9"/><path d="M658.8 788.6A10.5 10 0 0 0 676.3 794.1" stroke="#8b8b8b" stroke-width="1.6" fill="none"/><path d="M634 611.6L698.9 614.3V770.6L635.6 767Z" fill="#84E9B6"/><path d="M635 612L636.6 767" stroke="#45a57a" stroke-width="2.2" fill="none"/><path d="M638.6 613L640 766" stroke="#a9f3d2" stroke-width="1.6" fill="none"/><path d="M645 680L690 655M650 690L690 740M680 616V766" stroke="#6fdba6" stroke-width="1" fill="none"/><path d="M646 757h44M648 750q8 -6 14 0M668 750q8 -6 14 0" stroke="#b5f5da" stroke-width="1.4" fill="none"/><path d="M568.6 560L574.6 798" stroke="#9fb6bd" stroke-width="0.8" fill="none"/><path d="M702.6 559H719.5V744L708 746V760H702.6Z" fill="#EEF2F0"/><path d="M702 575V815" stroke="#222" stroke-width="1.2"/><path d="M700.2 614V771" stroke="#bff2dc" stroke-width="1.6"/><path d="M741 527L763 517.4L804.7 549.5L783.8 553Z" fill="#D86A94"/><ellipse cx="763" cy="528.0" rx="10" ry="7.2" fill="#3a0508"/><ellipse cx="763" cy="525.5" rx="10" ry="7.2" fill="#8E0E14"/><path d="M757.5 525.0h11" stroke="#E32630" stroke-width="2.2" stroke-linecap="round"/><ellipse cx="781.7" cy="543.5" rx="10" ry="7.2" fill="#3a0508"/><ellipse cx="781.7" cy="541" rx="10" ry="7.2" fill="#8E0E14"/><path d="M776.2 540.5h11" stroke="#E32630" stroke-width="2.2" stroke-linecap="round"/><path class="k" d="M716 545L745 528L790 552V580H716Z"/><path d="M719.2 560V756A31.149999999999977 13.5 0 0 0 781.5 756V560Z" fill="#EEF2F0"/><ellipse cx="750.35" cy="560" rx="31.149999999999977" ry="13.5" fill="#0c0c0c" stroke="#111" stroke-width="1.2"/><path d="M729.3 570.0V766.0" stroke="#b4baba" stroke-width="2.6" fill="none"/><path d="M746.6 573.4V769.4" stroke="#b4baba" stroke-width="2.6" fill="none"/><path d="M753.9 573.4V769.4" stroke="#b4baba" stroke-width="2.6" fill="none"/><path d="M771.7 569.8V765.8" stroke="#b4baba" stroke-width="2.6" fill="none"/><path d="M779.5 564.8V760.8" stroke="#b4baba" stroke-width="2.6" fill="none"/><path d="M724.5 567.5V763.5" stroke="#0c0c0c" stroke-width="1.5" fill="none"/><path d="M734.6 571.6V767.6" stroke="#0c0c0c" stroke-width="1.5" fill="none"/><path d="M740.9 572.9V768.9" stroke="#0c0c0c" stroke-width="1.5" fill="none"/><path d="M761.1 572.7V768.7" stroke="#0c0c0c" stroke-width="1.5" fill="none"/><path d="M766.9 571.4V767.4" stroke="#0c0c0c" stroke-width="1.5" fill="none"/><path d="M777 567.0V763.0" stroke="#0c0c0c" stroke-width="1.5" fill="none"/><path d="M719.2 596A31.149999999999977 13.5 0 0 0 781.5 596" stroke="#0c0c0c" stroke-width="1.5" fill="none"/><rect x="739.35" y="604.0" width="12" height="6.4" fill="#0c0c0c"/><rect x="741.15" y="605.7" width="7.6" height="3.4" fill="#EEF2F0"/><path d="M719.2 628A31.149999999999977 13.5 0 0 0 781.5 628" stroke="#0c0c0c" stroke-width="1.5" fill="none"/><rect x="739.35" y="636.0" width="12" height="6.4" fill="#0c0c0c"/><rect x="741.15" y="637.7" width="7.6" height="3.4" fill="#EEF2F0"/><path d="M719.2 660.4A31.149999999999977 13.5 0 0 0 781.5 660.4" stroke="#0c0c0c" stroke-width="1.5" fill="none"/><rect x="739.35" y="668.4" width="12" height="6.4" fill="#0c0c0c"/><rect x="741.15" y="670.1" width="7.6" height="3.4" fill="#EEF2F0"/><path d="M719.2 692A31.149999999999977 13.5 0 0 0 781.5 692" stroke="#0c0c0c" stroke-width="1.5" fill="none"/><rect x="739.35" y="700.0" width="12" height="6.4" fill="#0c0c0c"/><rect x="741.15" y="701.7" width="7.6" height="3.4" fill="#EEF2F0"/><path d="M719.2 724A31.149999999999977 13.5 0 0 0 781.5 724" stroke="#0c0c0c" stroke-width="1.5" fill="none"/><rect x="739.35" y="732.0" width="12" height="6.4" fill="#0c0c0c"/><rect x="741.15" y="733.7" width="7.6" height="3.4" fill="#EEF2F0"/><path d="M719.2 560V756A31.149999999999977 13.5 0 0 0 781.5 756V560" stroke="#0c0c0c" stroke-width="1.6" fill="none"/><path d="M726.8000000000001 535.6V539.6A8.4 4 0 0 0 743.6 539.6V535.6Z" fill="#000"/><ellipse cx="735.2" cy="535.6" rx="8.4" ry="4" fill="#EEF2F0"/><path d="M745.9 539.6V543.6A8.4 4 0 0 0 762.6999999999999 543.6V539.6Z" fill="#000"/><ellipse cx="754.3" cy="539.6" rx="8.4" ry="4" fill="#EEF2F0"/><path d="M718.4 550.7V554.7A8.4 4 0 0 0 735.1999999999999 554.7V550.7Z" fill="#000"/><ellipse cx="726.8" cy="550.7" rx="8.4" ry="4" fill="#EEF2F0"/><path d="M764.1 555.3V559.3A8.4 4 0 0 0 780.9 559.3V555.3Z" fill="#000"/><ellipse cx="772.5" cy="555.3" rx="8.4" ry="4" fill="#EEF2F0"/><path d="M737.2 565.7V569.7A8.4 4 0 0 0 754.0 569.7V565.7Z" fill="#000"/><ellipse cx="745.6" cy="565.7" rx="8.4" ry="4" fill="#EEF2F0"/><path d="M755.4 566.9V570.9A8.4 4 0 0 0 772.1999999999999 570.9V566.9Z" fill="#000"/><ellipse cx="763.8" cy="566.9" rx="8.4" ry="4" fill="#EEF2F0"/><path d="M719.0 566.9V570.9A8.4 4 0 0 0 735.8 570.9V566.9Z" fill="#000"/><ellipse cx="727.4" cy="566.9" rx="8.4" ry="4" fill="#EEF2F0"/><path class="w" d="M741 552l5 5l5 -5l5 5" stroke-width="0.8"/><path d="M807 764L836 790L808 802Z" fill="#7C8889"/><path d="M706.2 758L709.2 743.2L719.5 741.5V756A31.25 13.5 0 0 0 782 756V752L806 764L750.7 783Z" fill="#8E9A9B"/><path d="M706.2 757L749 780.5V833L706.2 800Z" fill="#E3E8E6"/><path d="M706.2 789.5L749 822V833L706.2 800Z" fill="#8E9A9B"/><path d="M749 780.8L807.6 763V818L754.8 839.6L749 833Z" fill="#EEF2F0"/><path d="M706.2 757L749 780.5L807.6 763M749 780.5V833M750 811L767 806M706.2 757V800L749 833L754.8 839.6L807.6 818V763" stroke="#111" stroke-width="1.1" fill="none"/><path d="M768 776.0V834.0" stroke="#111" stroke-width="1.2" fill="none"/><path d="M775 773.9V831.2" stroke="#111" stroke-width="1.2" fill="none"/><path d="M782 771.8V828.4" stroke="#111" stroke-width="1.2" fill="none"/><path d="M789 769.7V825.6" stroke="#111" stroke-width="1.2" fill="none"/><path d="M796 767.6V822.8" stroke="#111" stroke-width="1.2" fill="none"/><path d="M802 765.8V820.4" stroke="#111" stroke-width="1.2" fill="none"/><path d="M779 790V824M786 787V820" stroke="#111" stroke-width="3.2" fill="none"/><path class="k" d="M781.6 553L792 552.6L810.5 560.2L861.2 585L881.6 585.2V796L861 810.2L806 780.5L781.6 770Z"/><path class="w" d="M785 573.8L861.2 607.1L881.3 594.7"/><path class="w" d="M785 606.9L861.2 640.2L881.3 627.8"/><path class="w" d="M785 639L861.2 672.3L881.3 659.9"/><path class="w" d="M785 649.4L861.2 682.7L881.3 670.3"/><path class="w" d="M785 681.5L861.2 714.8L881.3 702.4"/><path class="w" d="M785 713.9L861.2 747.2L881.3 734.8"/><path class="w" d="M785 745.3L861.2 778.6L881.3 766.2"/><path d="M861.2 589V809.5" stroke="#e0e0e0" stroke-width="1.1" fill="none"/><path class="w" d="M809.9 563.6L861.2 588.6L881 586.8M809.5 563.6V584.5M835 599V628M809.5 650.5V660M835.7 757V795.5" stroke-width="0.9"/><path d="M784.6 553.5V770" stroke="#555" stroke-width="1" fill="none"/></svg>
</body></html>
